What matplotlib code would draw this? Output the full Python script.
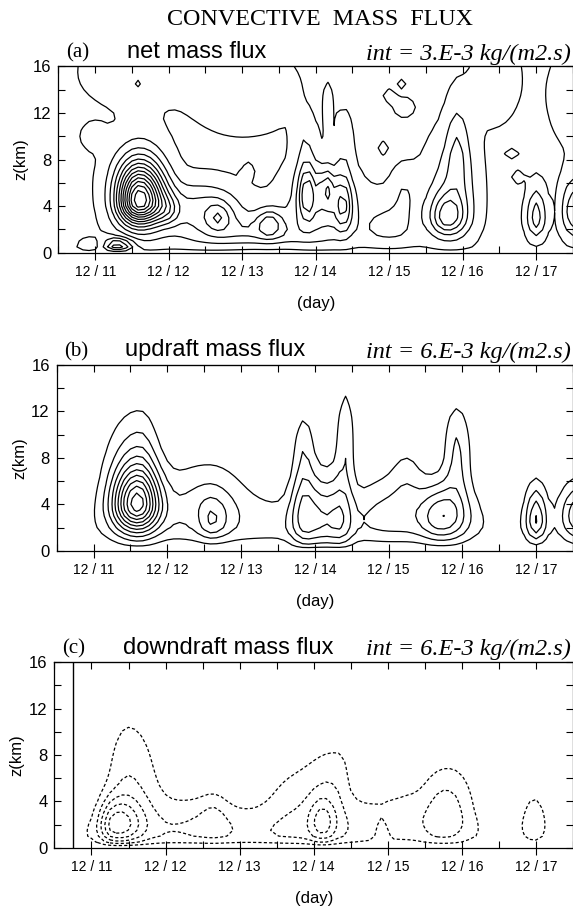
import numpy as np
import matplotlib.pyplot as plt
from matplotlib.ticker import MultipleLocator, FixedLocator

# time axis (day of December) and height (km) of the model output
day = np.arange(10.5, 17.5001, 1 / 12)
hgt = np.arange(0.0, 16.001, 0.5)
T, Z = np.meshgrid(day, hgt)

# convective cells, units 1e-3 kg/(m2 s)
# centre day, centre height, peak, half widths (left, right, below, above)
NET_DAY = [11.60, 11.60, 12.45, 12.68, 13.37, 13.20, 14.10, 13.88, 14.15, 14.38,
           13.85, 14.38, 14.17, 15.00, 15.78, 15.85, 15.92, 15.20, 17.00, 17.52,
           11.40, 10.97, 13.00, 16.45, 17.55, 11.58, 13.08, 14.92, 15.00, 15.20,
           15.17, 16.67, 16.75, 11.30, 10.92, 12.00]
NET_Z = [4.4, 6.0, 3.8, 3.0, 2.5, 1.5, 4.0, 5.0, 5.5, 4.0,
         9.5, 10.0, 12.5, 2.0, 3.0, 5.0, 9.0, 5.5, 3.0, 3.5,
         15.5, 10.0, 14.0, 15.0, 13.5, 14.5, 7.0, 9.0, 13.5, 12.5,
         14.5, 8.5, 6.5, 0.5, 0.5, 3.5]
NET_AMP = [32, 8, 8, 6, 8, 6, 8, 10, 7, 9,
           3, 3, 3, 5, 11, 6, 5, 3, 9, 10,
           2.5, 2.5, 2.5, 2.5, 2.5, 2.5, 2.5, 2.5, 2.5, 2.8,
           2.5, 2.5, 2.5, -13, 3, 5]
NET_WL = [0.19, 0.30, 0.40, 0.12, 0.12, 0.50, 0.35, 0.08, 0.07, 0.08,
          0.10, 0.07, 0.04, 0.30, 0.15, 0.25, 0.10, 0.12, 0.09, 0.12,
          0.47, 0.12, 0.60, 0.25, 0.30, 0.05, 0.05, 0.05, 0.06, 0.10,
          0.04, 0.06, 0.06, 0.12, 0.12, 0.12]
NET_WR = [0.23, 0.25, 0.40, 0.12, 0.12, 0.50, 0.30, 0.08, 0.07, 0.08,
          0.10, 0.08, 0.04, 0.30, 0.18, 0.25, 0.12, 0.15, 0.09, 0.12,
          0.45, 0.12, 0.60, 0.25, 0.30, 0.05, 0.05, 0.05, 0.06, 0.10,
          0.04, 0.06, 0.06, 0.15, 0.12, 0.10]
NET_WDN = [1.3, 3.5, 2.0, 0.8, 0.8, 0.6, 2.2, 1.5, 1.2, 1.5,
           2.5, 2.5, 1.5, 1.0, 1.0, 3.0, 3.0, 1.5, 1.2, 1.5,
           2.2, 0.8, 3.0, 3.0, 3.5, 0.4, 0.4, 0.4, 0.4, 0.6,
           0.3, 0.3, 0.4, 0.4, 0.4, 0.8]
NET_WUP = [2.1, 2.6, 1.6, 0.9, 0.9, 1.2, 2.5, 1.8, 1.2, 1.8,
           1.5, 1.5, 1.2, 2.0, 1.4, 3.5, 3.0, 1.5, 1.8, 2.0,
           3.0, 0.8, 3.0, 3.0, 3.5, 0.4, 0.4, 0.4, 0.4, 0.6,
           0.3, 0.3, 0.4, 0.5, 0.5, 1.0]
NET_BG = -1.0

UP_DAY = [11.58, 11.62, 13.70, 12.55, 12.60, 13.85, 14.10, 14.35, 13.85, 14.42,
          15.00, 15.25, 15.72, 15.92, 17.00, 17.57]
UP_Z = [3.9, 7.0, 2.0, 4.5, 2.4, 3.2, 3.0, 3.0, 9.0, 10.0,
        3.5, 6.5, 3.0, 8.5, 2.6, 3.0]
UP_AMP = [48, 17, 9, 11, 11, 18, 12, 15, 9, 11,
          8, 6, 24, 13, 22, 22]
UP_WL = [0.22, 0.30, 2.00, 0.45, 0.12, 0.13, 0.13, 0.12, 0.10, 0.09,
         0.30, 0.15, 0.22, 0.12, 0.10, 0.17]
UP_WR = [0.22, 0.18, 2.10, 0.35, 0.15, 0.13, 0.13, 0.12, 0.10, 0.08,
         0.30, 0.15, 0.25, 0.14, 0.10, 0.15]
UP_WDN = [1.5, 3.5, 1.0, 2.0, 1.0, 2.2, 2.2, 2.2, 3.0, 3.0,
          1.8, 2.5, 1.5, 3.0, 1.3, 1.5]
UP_WUP = [2.2, 3.5, 2.2, 2.5, 1.4, 2.8, 2.8, 2.8, 2.3, 3.0,
          2.5, 2.0, 2.0, 3.0, 2.2, 2.0]

DN_DAY = [11.30, 11.50, 13.60, 12.50, 12.65, 13.60, 14.12, 14.15, 14.35, 15.20,
          15.75, 15.85, 16.98, 14.92]
DN_Z = [2.0, 4.5, 1.0, 2.5, 2.5, 3.5, 2.2, 3.5, 7.0, 3.3,
        2.5, 4.5, 2.3, 0.8]
DN_AMP = [24, 12, 9, 7, 5, 5, 14, 9, 5, 6,
          10, 6, 9, -8]
DN_WL = [0.14, 0.22, 2.40, 0.50, 0.12, 0.30, 0.12, 0.35, 0.25, 0.45,
         0.22, 0.30, 0.13, 0.06]
DN_WR = [0.25, 0.30, 2.00, 0.40, 0.12, 0.30, 0.12, 0.30, 0.08, 0.20,
         0.25, 0.25, 0.12, 0.06]
DN_WDN = [1.2, 3.0, 0.6, 1.5, 1.0, 2.0, 1.2, 2.0, 2.5, 1.2,
          1.5, 2.5, 1.5, 1.0]
DN_WUP = [1.6, 5.0, 1.5, 2.0, 1.5, 3.0, 1.5, 3.0, 1.5, 1.5,
          2.5, 2.5, 2.0, 1.2]

day_ticks = [11, 12, 13, 14, 15, 16, 17]
day_labels = ["12 / 11", "12 / 12", "12 / 13", "12 / 14", "12 / 15", "12 / 16", "12 / 17"]


def cells(d0, z0, amp, wl, wr, wdn, wup):
    f = np.zeros_like(T)
    for i in range(len(d0)):
        dt = T - d0[i]
        dz = Z - z0[i]
        wt = np.where(dt < 0, wl[i], wr[i])
        wz = np.where(dz < 0, wdn[i], wup[i])
        f += amp[i] * np.exp(-0.5 * (dt / wt) ** 2 - 0.5 * (dz / wz) ** 2)
    return f


sfc = 1 - np.exp(-Z / 0.25)
net = sfc * cells(NET_DAY, NET_Z, NET_AMP, NET_WL, NET_WR, NET_WDN, NET_WUP) + NET_BG
up = sfc * cells(UP_DAY, UP_Z, UP_AMP, UP_WL, UP_WR, UP_WDN, UP_WUP)
dn = sfc * cells(DN_DAY, DN_Z, DN_AMP, DN_WL, DN_WR, DN_WDN, DN_WUP)

serif = "Liberation Serif"
sans = "Liberation Sans"
dash = (0, (2.5, 1.8))

fig = plt.figure(figsize=(5.73, 9.07), dpi=100)
fig.text(0.558, 0.978, "CONVECTIVE  MASS  FLUX", family=serif, fontsize=17.3,
         ha="center", va="center")

panels = [
    ([0.102, 0.7214, 0.898, 0.2053], net, np.arange(-9, 37, 3), ["solid"],
     "(a)", "net mass flux", "int = 3.E-3 kg/(m2.s)"),
    ([0.099, 0.3928, 0.901, 0.2048], up, np.arange(6, 67, 6), ["solid"],
     "(b)", "updraft mass flux", "int = 6.E-3 kg/(m2.s)"),
    ([0.095, 0.0654, 0.905, 0.2044], dn, np.arange(6, 31, 6), [dash],
     "(c)", "downdraft mass flux", "int = 6.E-3 kg/(m2.s)"),
]

for pos, field, levels, ls, tag, name, interval in panels:
    ax = fig.add_axes(pos)
    ax.contour(day, hgt, field, levels=levels, colors="black", linewidths=0.9,
               linestyles=ls, negative_linestyles=[dash])
    ax.set_xlim(10.5, 17.5)
    ax.set_ylim(0, 16)
    ax.set_xticks(day_ticks)
    ax.set_xticklabels(day_labels, family=sans, fontsize=10)
    ax.xaxis.set_minor_locator(FixedLocator(np.arange(10.5, 17.6, 0.5)))
    ax.set_yticks([0, 4, 8, 12, 16])
    ax.set_yticklabels(["0", "4", "8", "12", "16"], family=sans, fontsize=12)
    ax.yaxis.set_minor_locator(MultipleLocator(2))
    ax.tick_params(axis="x", which="major", direction="inout", length=10,
                   width=0.8, top=False, pad=4)
    ax.tick_params(axis="x", which="minor", direction="in", length=5,
                   width=0.8, top=True)
    ax.tick_params(axis="y", which="both", direction="in", length=5,
                   width=0.8, right=True, pad=5)
    top = ax.secondary_xaxis("top")
    top.set_xticks(day_ticks)
    top.tick_params(direction="in", length=5, width=0.8, labeltop=False)
    for s in ax.spines.values():
        s.set_linewidth(0.9)
    ax.set_xlabel("(day)", family=sans, fontsize=12, labelpad=12)
    ax.set_ylabel("z(km)", family=sans, fontsize=12, labelpad=3)
    ax.text(0.015, 1.02, tag, transform=ax.transAxes, family=serif, fontsize=15,
            va="bottom")
    ax.text(0.133, 1.02, name, transform=ax.transAxes, family=sans, fontsize=17,
            va="bottom")
    ax.text(0.995, 1.01, interval, transform=ax.transAxes, family=serif,
            style="italic", fontsize=17.5, ha="right", va="bottom")
    if field is dn:
        ax.axvline(10.75, color="black", lw=1.0)

fig.savefig("out.png", dpi=100)
